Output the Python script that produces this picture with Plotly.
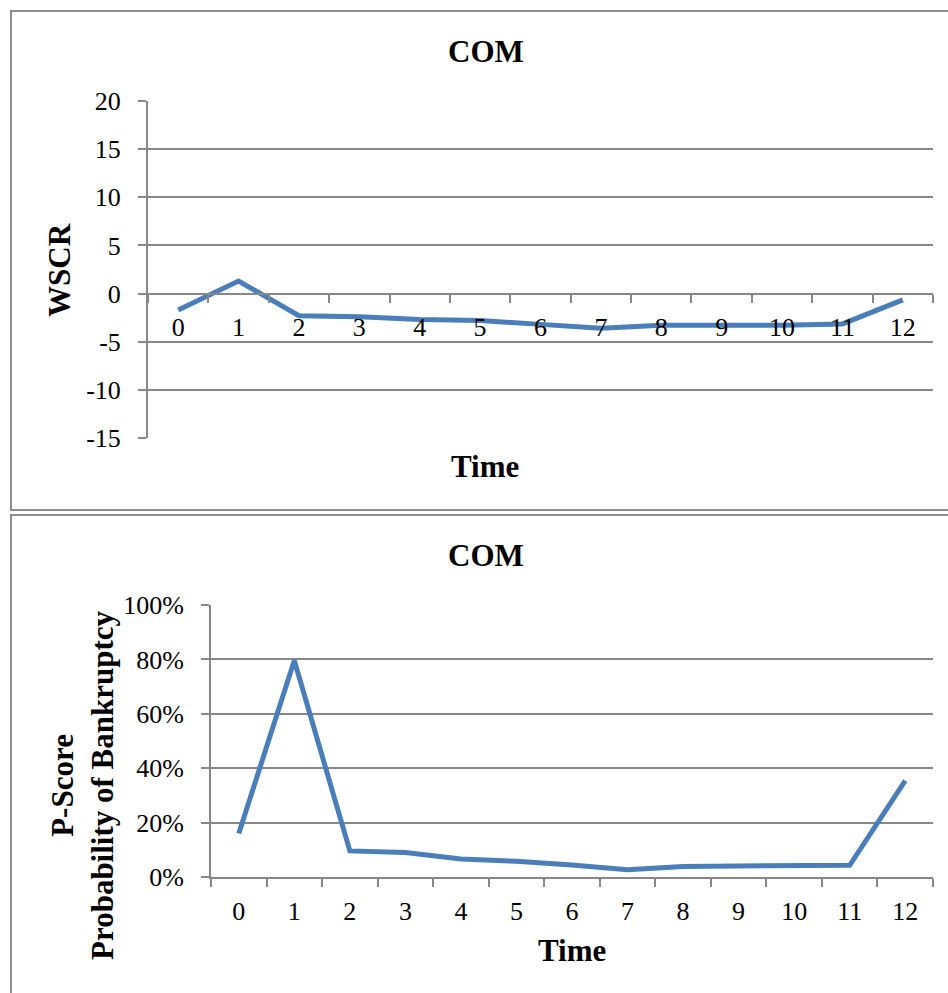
import plotly.graph_objects as go

periods = [str(i) for i in range(13)]
wscr = [-1.7, 1.3, -2.3, -2.4, -2.7, -2.8, -3.2, -3.6, -3.3, -3.3, -3.3, -3.15, -0.65]
pscore = [0.16, 0.796, 0.096, 0.09, 0.066, 0.058, 0.044, 0.027, 0.039, 0.039, 0.039, 0.043, 0.354]
wscr_ticks = [-15, -10, -5, 0, 5, 10, 15, 20]
wscr_ticktext = ["-15", "-10", "-5", "0", "5", "10", "15", "20"]

W, H = 948, 993
def px(x):
    return x / W
def py(y):
    return 1 - y / H

FONT = "Liberation Serif"
GRID = "#878787"
BLUE = "#4a7ebb"

fig = go.Figure()
fig.add_trace(go.Scatter(x=periods, y=wscr, mode="lines", line=dict(color=BLUE, width=5),
                         xaxis="x", yaxis="y", showlegend=False))
fig.add_trace(go.Scatter(x=periods, y=pscore, mode="lines", line=dict(color=BLUE, width=5),
                         xaxis="x2", yaxis="y2", showlegend=False))

y1_dom = [py(438), py(101)]
y1_range = [-15, 20]
zero_pos = y1_dom[0] + (y1_dom[1] - y1_dom[0]) * (0 - y1_range[0]) / (y1_range[1] - y1_range[0])
cat_range = [-0.5, len(periods) - 0.5]

tickfont = dict(family=FONT, size=26, color="black")

fig.update_layout(
    width=W, height=H, margin=dict(l=0, r=0, t=0, b=0, autoexpand=False),
    paper_bgcolor="white", plot_bgcolor="white",
    xaxis=dict(domain=[px(148), px(933)], type="category", range=cat_range, anchor="free", position=zero_pos,
               showline=True, linecolor=GRID, linewidth=2, showgrid=False, automargin=False,
               ticks="outside", ticklen=8, tickwidth=2, tickcolor=GRID, tickson="boundaries",
               tickfont=tickfont, ticklabelstandoff=10, zeroline=False),
    yaxis=dict(domain=y1_dom, range=y1_range, tickvals=wscr_ticks, ticktext=wscr_ticktext, anchor="x",
               showline=True, linecolor=GRID, linewidth=2, automargin=False,
               showgrid=True, gridcolor=GRID, gridwidth=2, zeroline=False,
               ticks="outside", ticklen=8, tickwidth=2, tickcolor=GRID,
               tickfont=tickfont, ticklabelstandoff=12),
    xaxis2=dict(domain=[px(211), px(933)], type="category", range=cat_range, anchor="y2",
                showline=True, linecolor=GRID, linewidth=2, showgrid=False, automargin=False,
                ticks="outside", ticklen=8, tickwidth=2, tickcolor=GRID, tickson="boundaries",
                tickfont=tickfont, ticklabelstandoff=10),
    yaxis2=dict(domain=[py(877), py(605)], range=[0, 1], dtick=0.2, tickformat=".0%", anchor="x2",
                showline=True, linecolor=GRID, linewidth=2, automargin=False,
                showgrid=True, gridcolor=GRID, gridwidth=2, zeroline=False,
                ticks="outside", ticklen=8, tickwidth=2, tickcolor=GRID,
                tickfont=tickfont, ticklabelstandoff=12),
)

bold = dict(family=FONT, size=31, color="black")
ann = [
    dict(text="<b>COM</b>", x=px(486), y=py(51)),
    dict(text="<b>Time</b>", x=px(485), y=py(466)),
    dict(text="<b>WSCR</b>", x=px(60), y=py(270), textangle=-90),
    dict(text="<b>COM</b>", x=px(486), y=py(555)),
    dict(text="<b>Time</b>", x=px(572), y=py(950)),
    dict(text="<b>P-Score<br>Probability of Bankruptcy</b>", x=px(82), y=py(785), textangle=-90),
]
for a in ann:
    fig.add_annotation(xref="paper", yref="paper", showarrow=False, font=bold,
                       xanchor="center", yanchor="middle", **a)

fig.add_shape(type="rect", xref="paper", yref="paper", x0=px(11), x1=px(970), y0=py(510), y1=py(11),
              line=dict(color="#8e8e8e", width=2), layer="below")
fig.add_shape(type="rect", xref="paper", yref="paper", x0=px(11), x1=px(970), y0=py(1010), y1=py(515),
              line=dict(color="#8e8e8e", width=2), layer="below")

fig.write_html("out.html",
               post_script="document.body.style.margin='0';document.body.style.overflow='hidden';")
